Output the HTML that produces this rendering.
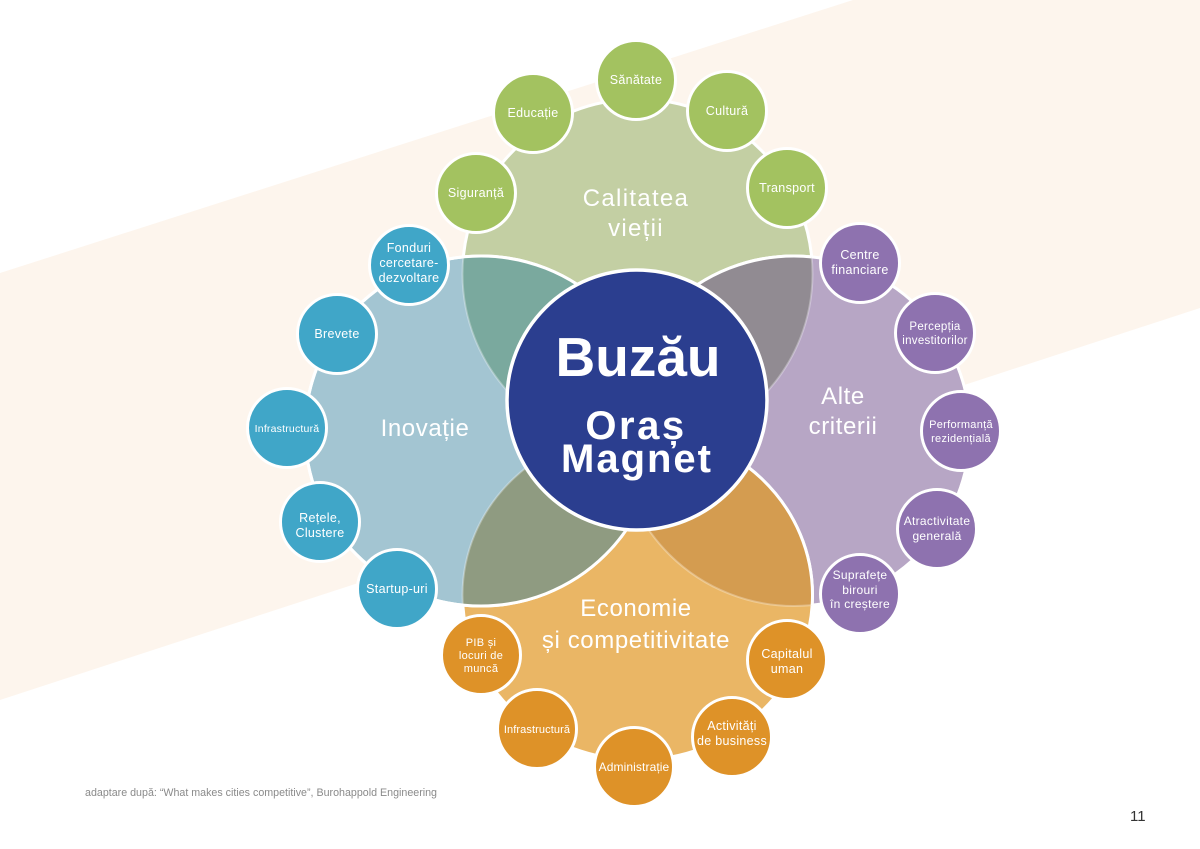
<!DOCTYPE html>
<html>
<head>
<meta charset="utf-8">
<style>
  html,body{margin:0;padding:0;background:#ffffff;}
  svg{display:block;}
  text{font-family:"Liberation Sans", "DejaVu Sans", sans-serif;}
</style>
</head>
<body>
<svg width="1200" height="849" viewBox="0 0 1200 849" xmlns="http://www.w3.org/2000/svg">
  <defs>
    <clipPath id="cT"><circle cx="637.5" cy="274" r="175"/></clipPath>
    <clipPath id="cL"><ellipse cx="481" cy="431" rx="176" ry="175"/></clipPath>
    <clipPath id="cR"><ellipse cx="794" cy="431" rx="176" ry="175"/></clipPath>
    <clipPath id="cB"><ellipse cx="637.5" cy="595" rx="175" ry="165"/></clipPath>
  </defs>

  <!-- background -->
  <rect x="0" y="0" width="1200" height="849" fill="#ffffff"/>
  <polygon points="0,273 853,0 1200,0 1200,308 0,700" fill="#fdf5ed"/>

  <!-- petals -->
  <circle cx="637.5" cy="274" r="175" fill="#c3cfa3" stroke="#ffffff" stroke-width="3"/>
  <ellipse cx="794" cy="431" rx="176" ry="175" fill="#b7a6c5" stroke="#ffffff" stroke-width="3"/>
  <ellipse cx="637.5" cy="595" rx="175" ry="165" fill="#eab665" stroke="#ffffff" stroke-width="3"/>
  <ellipse cx="481" cy="431" rx="176" ry="175" fill="#a3c5d2" stroke="#ffffff" stroke-width="3"/>

  <!-- overlaps -->
  <g clip-path="url(#cT)"><ellipse cx="481" cy="431" rx="176" ry="175" fill="#7aa99e"/></g>
  <g clip-path="url(#cT)"><ellipse cx="794" cy="431" rx="176" ry="175" fill="#918b92"/></g>
  <g clip-path="url(#cB)"><ellipse cx="794" cy="431" rx="176" ry="175" fill="#d49c50"/></g>
  <g clip-path="url(#cB)"><ellipse cx="481" cy="431" rx="176" ry="175" fill="#8f9b81"/></g>

  <!-- faint inner edges -->
  <g fill="none" stroke="#ffffff" stroke-width="2" stroke-opacity="0.3">
    <circle cx="637.5" cy="274" r="175"/>
    <ellipse cx="794" cy="431" rx="176" ry="175"/>
    <ellipse cx="637.5" cy="595" rx="175" ry="165"/>
  </g>
  <!-- bold edges -->
  <g clip-path="url(#cT)"><ellipse cx="794" cy="431" rx="176" ry="175" fill="none" stroke="#ffffff" stroke-width="3"/></g>
  <g clip-path="url(#cR)"><ellipse cx="637.5" cy="595" rx="175" ry="165" fill="none" stroke="#ffffff" stroke-width="3"/></g>
  <ellipse cx="481" cy="431" rx="176" ry="175" fill="none" stroke="#ffffff" stroke-width="3"/>

  <!-- petal labels -->
  <g fill="#ffffff" font-size="24" text-anchor="middle" letter-spacing="0.6">
    <text x="636" y="206" letter-spacing="1.3">Calitatea</text>
    <text x="636" y="236" letter-spacing="1.3">vieții</text>
    <text x="425" y="436">Inovație</text>
    <text x="843" y="404">Alte</text>
    <text x="843" y="434">criterii</text>
    <text x="636" y="616">Economie</text>
    <text x="636" y="648">și competitivitate</text>
  </g>

  <!-- center circle -->
  <circle cx="637" cy="400" r="130" fill="#2b3e8f" stroke="#ffffff" stroke-width="3.5"/>
  <g fill="#ffffff" font-weight="bold" text-anchor="middle">
    <text x="638" y="376" font-size="55">Buzău</text>
    <text x="636" y="439" font-size="40" letter-spacing="2.5">Oraș</text>
    <text x="637" y="472" font-size="40" letter-spacing="2">Magnet</text>
  </g>

  <!-- small circles -->
  <g stroke="#ffffff" stroke-width="3">
    <g fill="#a3c260">
      <circle cx="476" cy="193" r="39.5"/>
      <circle cx="533" cy="113" r="39.5"/>
      <circle cx="636" cy="80" r="39.5"/>
      <circle cx="727" cy="111" r="39.5"/>
      <circle cx="787" cy="188" r="39.5"/>
    </g>
    <g fill="#40a6c8">
      <circle cx="409" cy="265" r="39.5"/>
      <circle cx="337" cy="334" r="39.5"/>
      <circle cx="287" cy="428" r="39.5"/>
      <circle cx="320" cy="522" r="39.5"/>
      <circle cx="397" cy="589" r="39.5"/>
    </g>
    <g fill="#8e72af">
      <circle cx="860" cy="263" r="39.5"/>
      <circle cx="935" cy="333" r="39.5"/>
      <circle cx="961" cy="431" r="39.5"/>
      <circle cx="937" cy="529" r="39.5"/>
      <circle cx="860" cy="594" r="39.5"/>
    </g>
    <g fill="#de9228">
      <circle cx="481" cy="655" r="39.5"/>
      <circle cx="537" cy="729" r="39.5"/>
      <circle cx="634" cy="767" r="39.5"/>
      <circle cx="732" cy="737" r="39.5"/>
      <circle cx="787" cy="660" r="39.5"/>
    </g>
  </g>

  <!-- small circle labels -->
  <g fill="#ffffff" text-anchor="middle" font-size="12.5" letter-spacing="0.3">
    <text x="476" y="197">Siguranță</text>
    <text x="533" y="117">Educație</text>
    <text x="636" y="84">Sănătate</text>
    <text x="727" y="115">Cultură</text>
    <text x="787" y="192">Transport</text>

    <text x="409" y="252">Fonduri</text>
    <text x="409" y="267">cercetare-</text>
    <text x="409" y="282">dezvoltare</text>
    <text x="337" y="338">Brevete</text>
    <text x="287" y="432" font-size="10.5" letter-spacing="0.2">Infrastructură</text>
    <text x="320" y="522">Rețele,</text>
    <text x="320" y="537">Clustere</text>
    <text x="397" y="593">Startup-uri</text>

    <text x="860" y="259">Centre</text>
    <text x="860" y="274">financiare</text>
    <text x="935" y="330" font-size="11.5">Percepția</text>
    <text x="935" y="344" font-size="11.5">investitorilor</text>
    <text x="961" y="428" font-size="11">Performanță</text>
    <text x="961" y="442" font-size="11">rezidențială</text>
    <text x="937" y="525" font-size="12">Atractivitate</text>
    <text x="937" y="540" font-size="12">generală</text>
    <text x="860" y="579" font-size="12">Suprafețe</text>
    <text x="860" y="594" font-size="12">birouri</text>
    <text x="860" y="608" font-size="12">în creștere</text>

    <text x="481" y="646" font-size="11">PIB și</text>
    <text x="481" y="659" font-size="11">locuri de</text>
    <text x="481" y="672" font-size="11">muncă</text>
    <text x="537" y="733" font-size="11" letter-spacing="0.1">Infrastructură</text>
    <text x="634" y="771" font-size="12" letter-spacing="0.1">Administrație</text>
    <text x="732" y="730">Activități</text>
    <text x="732" y="745">de business</text>
    <text x="787" y="658">Capitalul</text>
    <text x="787" y="673">uman</text>
  </g>

  <!-- footer -->
  <text x="85" y="796" font-size="11" fill="#8a8a8a" textLength="352" lengthAdjust="spacingAndGlyphs">adaptare după: “What makes cities competitive”, Burohappold Engineering</text>
  <text x="1130" y="821" font-size="15" fill="#333333">11</text>
</svg>
</body>
</html>
